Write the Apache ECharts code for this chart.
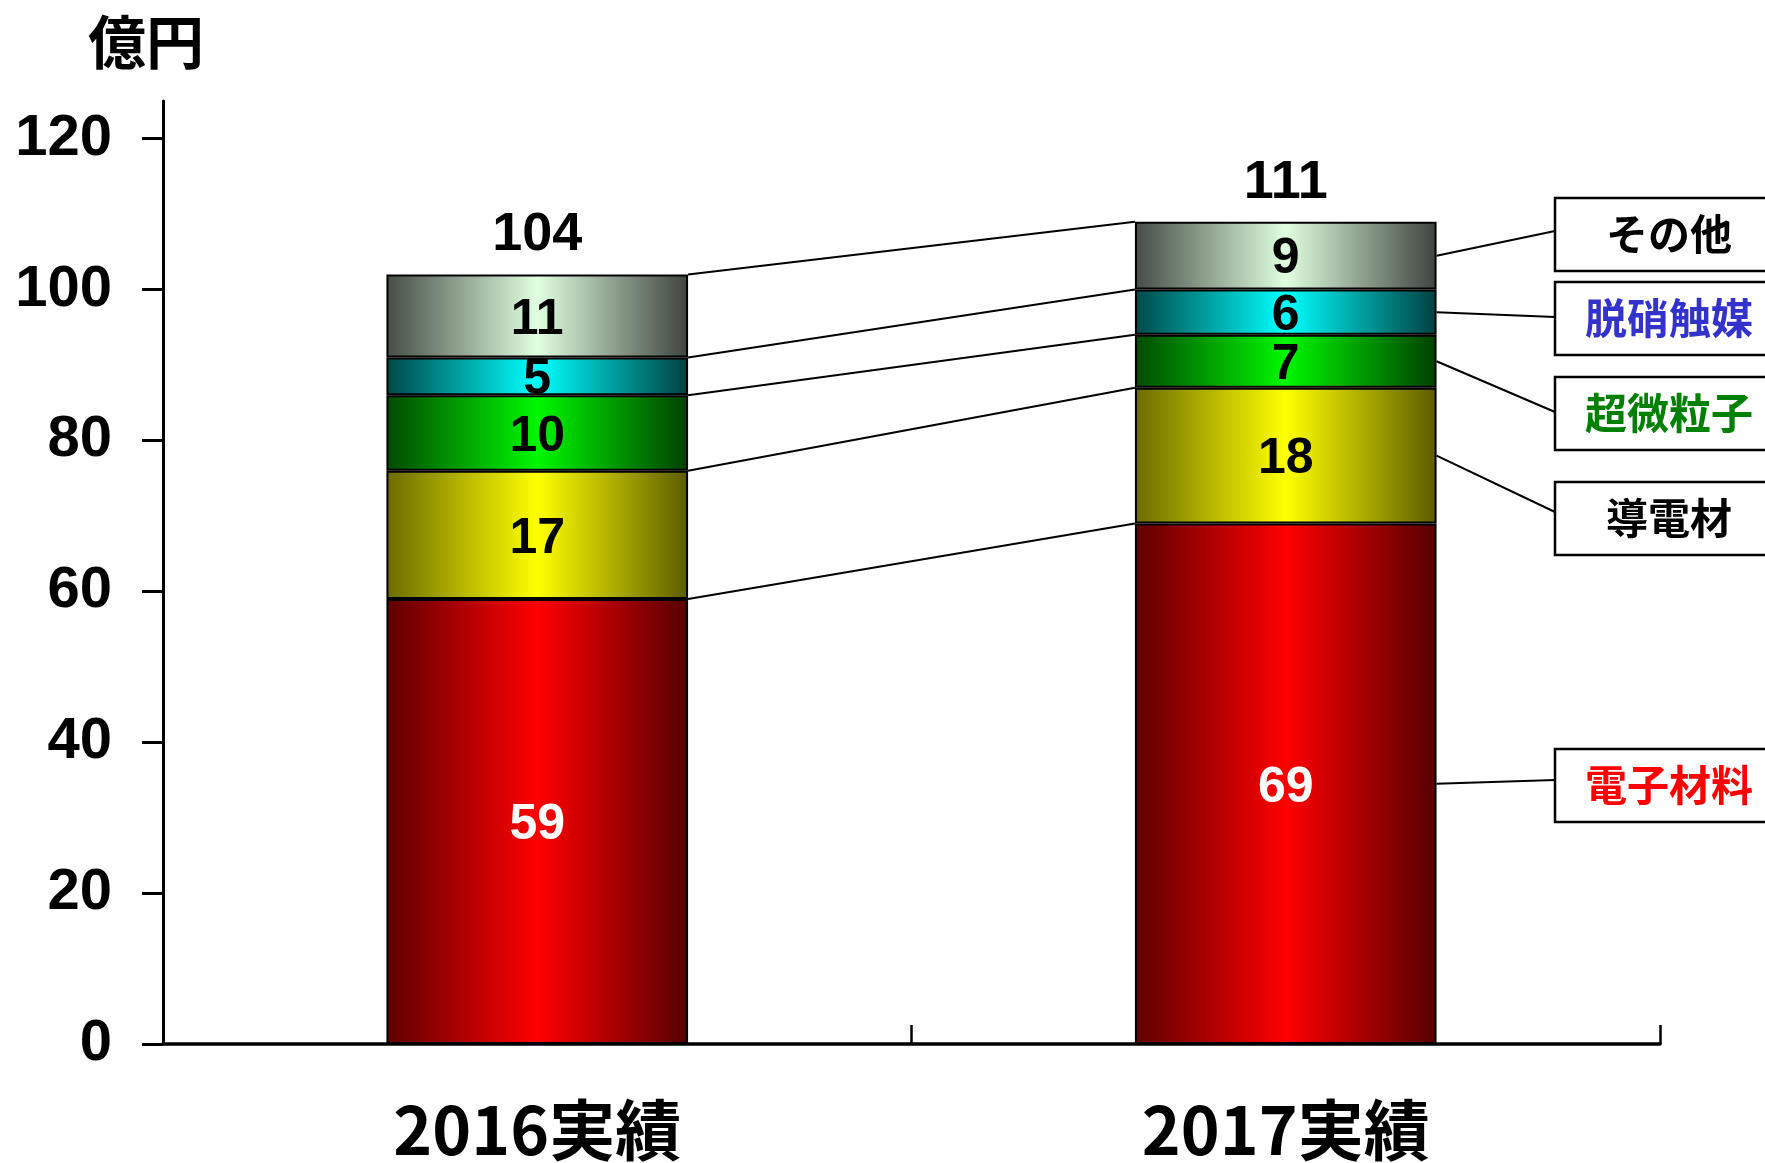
<!DOCTYPE html>
<html>
<head>
<meta charset="utf-8">
<script src="https://cdn.jsdelivr.net/npm/echarts@6/dist/echarts.min.js"></script>
<style>
html,body{margin:0;padding:0;background:#fff;}
#chart{width:1765px;height:1163px;}
</style>
</head>
<body>
<div id="chart"></div>
<script>
// ---- data ----
const categories = ['2016実績', '2017実績'];
const seriesNames = ['電子材料', '導電材', '超微粒子', '脱硝触媒', 'その他'];
const electronicMaterials = [59, 69];
const conductiveMaterials = [17, 18];
const ultrafineParticles = [10, 7];
const denoxCatalysts = [5, 6];
const others = [11, 9];
const totalLabels = [104, 111];
const yTickValues = [0, 20, 40, 60, 80, 100, 120];
const unitLabel = '億円';

// ---- styles / layout ----
const seriesValues = [electronicMaterials, conductiveMaterials, ultrafineParticles, denoxCatalysts, others];
const gradientStops = [
  ['#5e0000', '#ff0000', '#550000'],
  ['#6b6b00', '#ffff00', '#5c5c00'],
  ['#004a00', '#00f800', '#004000'],
  ['#004848', '#00ffff', '#004040'],
  ['#454d45', '#e0ffe0', '#3e443e']
];
const labelColors = ['#ffffff', '#000', '#000', '#000', '#000'];
const calloutColors = ['#ff0000', '#000000', '#008000', '#3333cc', '#000000'];
const calloutTops = [749, 482, 377, 282, 198];
const calloutLineEndY = [780, 512, 412, 317, 231];
const BOX_LEFT = 1555, BOX_W = 228, BOX_H = 73;
const BAR_RATIO = 0.403;
const NUM_FONT = '"Liberation Sans", Arial, sans-serif';
const CJK_FONT = '"Noto Sans CJK JP", "Noto Sans CJK SC", sans-serif';

// cumulative tops per category
const cumTops = categories.map((c, ci) => {
  let s = 0;
  return seriesValues.map(arr => (s += arr[ci]));
});

const barSeries = seriesValues.map((arr, i) => ({
  name: seriesNames[i],
  type: 'bar',
  stack: 'total',
  barWidth: (BAR_RATIO * 100) + '%',
  data: arr,
  itemStyle: {
    color: new echarts.graphic.LinearGradient(0, 0, 1, 0, [
      { offset: 0, color: gradientStops[i][0] },
      { offset: 0.5, color: gradientStops[i][1] },
      { offset: 1, color: gradientStops[i][2] }
    ]),
    borderColor: '#000',
    borderWidth: 2
  },
  label: {
    show: true,
    position: 'inside',
    offset: [0, 4],
    color: labelColors[i],
    fontFamily: NUM_FONT,
    fontWeight: 'bold',
    fontSize: 50
  },
  z: 3
}));

const totalSeries = {
  name: 'total',
  type: 'bar',
  stack: 'total',
  barWidth: (BAR_RATIO * 100) + '%',
  data: categories.map(() => 0),
  itemStyle: { color: 'rgba(0,0,0,0)', borderWidth: 0 },
  label: {
    show: true,
    position: 'top',
    distance: 12,
    formatter: p => String(totalLabels[p.dataIndex]),
    color: '#000',
    fontFamily: NUM_FONT,
    fontWeight: 'bold',
    fontSize: 54
  },
  z: 4
};

const connectorSeries = {
  type: 'custom',
  data: seriesValues.map((arr, k) => [0, cumTops[0][k], k]),
  encode: { x: 0, y: 1 },
  renderItem: (params, api) => {
    const k = api.value(2);
    const p0 = api.coord([0, cumTops[0][k]]);
    const p1 = api.coord([1, cumTops[1][k]]);
    const half = api.size([1, 0])[0] * BAR_RATIO / 2;
    return {
      type: 'line',
      shape: { x1: p0[0] + half, y1: p0[1], x2: p1[0] - half, y2: p1[1] },
      style: { stroke: '#000', lineWidth: 2 }
    };
  },
  silent: true,
  z: 2
};

const leaderSeries = {
  type: 'custom',
  data: seriesValues.map((arr, i) => [1, cumTops[1][i] - arr[1] / 2, i]),
  encode: { x: 0, y: 1 },
  renderItem: (params, api) => {
    const i = api.value(2);
    const p = api.coord([1, api.value(1)]);
    const half = api.size([1, 0])[0] * BAR_RATIO / 2;
    return {
      type: 'line',
      shape: { x1: p[0] + half, y1: p[1], x2: BOX_LEFT, y2: calloutLineEndY[i] },
      style: { stroke: '#000', lineWidth: 2 }
    };
  },
  silent: true,
  z: 2
};

const graphics = [{
  type: 'text',
  x: 146, y: 42,
  style: {
    text: unitLabel,
    textAlign: 'center',
    textVerticalAlign: 'middle',
    font: 'bold 58px ' + CJK_FONT,
    fill: '#000'
  }
}];
seriesNames.forEach((name, i) => {
  graphics.push({
    type: 'rect',
    shape: { x: BOX_LEFT, y: calloutTops[i], width: BOX_W, height: BOX_H },
    style: { fill: '#fff', stroke: '#000', lineWidth: 2.5 },
    z: 10
  });
  graphics.push({
    type: 'text',
    x: BOX_LEFT + BOX_W / 2, y: calloutTops[i] + BOX_H / 2,
    style: {
      text: name,
      textAlign: 'center',
      textVerticalAlign: 'middle',
      font: 'bold 42px ' + CJK_FONT,
      fill: calloutColors[i]
    },
    z: 11
  });
});

const chart = echarts.init(document.getElementById('chart'), null, { renderer: 'canvas' });
chart.setOption({
  animation: false,
  backgroundColor: '#fff',
  grid: { left: 163, right: 105, top: 101, bottom: 115, containLabel: false },
  xAxis: {
    type: 'category',
    data: categories,
    boundaryGap: true,
    axisLine: { lineStyle: { color: '#000', width: 3.5 } },
    axisTick: { show: true, inside: true, length: 19, alignWithLabel: false, lineStyle: { color: '#000', width: 2.5 } },
    axisLabel: {
      color: '#000',
      fontFamily: CJK_FONT,
      fontWeight: 'bold',
      fontSize: 66,
      margin: 53
    },
    splitLine: { show: false }
  },
  yAxis: {
    type: 'value',
    min: 0,
    max: 125,
    interval: 20,
    axisLine: { show: true, lineStyle: { color: '#000', width: 3 } },
    axisTick: { show: true, inside: false, length: 21, customValues: yTickValues, lineStyle: { color: '#000', width: 3 } },
    axisLabel: {
      customValues: yTickValues,
      formatter: v => (yTickValues.indexOf(v) >= 0 ? String(v) : ''),
      color: '#000',
      fontFamily: NUM_FONT,
      fontWeight: 'bold',
      fontSize: 58,
      margin: 51
    },
    splitLine: { show: false }
  },
  series: [...barSeries, totalSeries, connectorSeries, leaderSeries],
  graphic: graphics
});
</script>
</body>
</html>
